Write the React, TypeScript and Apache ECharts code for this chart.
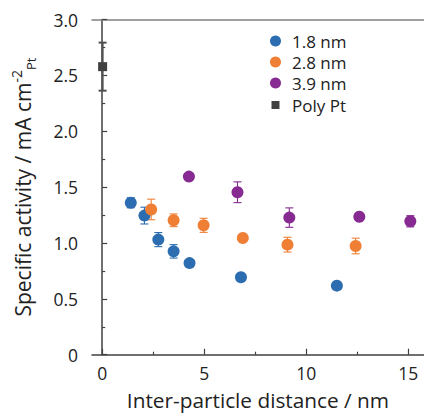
import React, { useEffect, useRef } from "react";
import * as echarts from "echarts";

const SERIES_NAMES = ["1.8 nm", "2.8 nm", "3.9 nm", "Poly Pt"];

const blueX = [1.4, 2.07, 2.75, 3.5, 4.28, 6.8, 11.5];
const blueY = [1.36, 1.245, 1.03, 0.925, 0.82, 0.693, 0.618];
const blueErr = [0.045, 0.075, 0.063, 0.06, 0, 0, 0];

const orangeX = [2.4, 3.5, 4.97, 6.89, 9.08, 12.42];
const orangeY = [1.3, 1.203, 1.158, 1.045, 0.985, 0.973];
const orangeErr = [0.092, 0.057, 0.063, 0, 0.066, 0.07];

const purpleX = [4.25, 6.63, 9.17, 12.6, 15.1];
const purpleY = [1.594, 1.454, 1.227, 1.235, 1.194];
const purpleErr = [0, 0.093, 0.087, 0, 0.05];

const polyX = [0.02];
const polyY = [2.578];
const polyErr = [0.215];

const xMajorTicks = [0, 5, 10, 15];
const xMinorTicks = [2.5, 7.5, 12.5];

const COLORS = ["#2c6cb0", "#ee7f35", "#872a91", "#404040"];
const ERR_COLORS = ["#2c6cb0", "#ee7f35", "#872a91", "#505050"];
const FONT = "Open Sans";
const TEXT = "#222222";
const AXIS = "#404040";

function pts(xs: number[], ys: number[]) {
  return xs.map((x, i) => [x, ys[i]]);
}

function errPts(xs: number[], ys: number[], es: number[]) {
  const out: number[][] = [];
  xs.forEach((x, i) => {
    if (es[i] > 0) out.push([x, ys[i] - es[i], ys[i] + es[i]]);
  });
  return out;
}

function errSeries(name: string, data: number[][], color: string, lw: number) {
  return {
    type: "custom",
    name,
    xAxisIndex: 0,
    yAxisIndex: 0,
    z: 5,
    clip: false,
    encode: { x: 0, y: [1, 2] },
    data,
    renderItem: (params: any, api: any) => {
      const x = api.value(0);
      const lo = api.value(1);
      const hi = api.value(2);
      const top = api.coord([x, hi]);
      const bot = api.coord([x, lo]);
      const hw = 4;
      const style = { stroke: color, lineWidth: lw, fill: null };
      return {
        type: "group",
        children: [
          { type: "line", shape: { x1: top[0], y1: top[1], x2: bot[0], y2: bot[1] }, style },
          { type: "line", shape: { x1: top[0] - hw, y1: top[1], x2: top[0] + hw, y2: top[1] }, style },
          { type: "line", shape: { x1: bot[0] - hw, y1: bot[1], x2: bot[0] + hw, y2: bot[1] }, style },
        ],
      };
    },
  };
}

export default function App() {
  const ref = useRef<HTMLDivElement>(null);
  useEffect(() => {
    if (!ref.current) return;
    const chart = echarts.init(ref.current, null, { renderer: "svg" });
    const xMin = -0.5;
    const xMax = 15.77;
    chart.setOption({
      animation: false,
      backgroundColor: "#ffffff",
      textStyle: { fontFamily: FONT },
      grid: { left: 92, right: 0, top: 19.5, bottom: 61.3, containLabel: false },
      legend: [
        {
          data: SERIES_NAMES.slice(0, 3),
          orient: "vertical",
          left: 270,
          top: 32,
          padding: 0,
          itemGap: 3,
          itemWidth: 11,
          itemHeight: 11,
          icon: "circle",
          itemStyle: { borderWidth: 0, opacity: 1 },
          textStyle: { fontFamily: FONT, fontSize: 17, color: TEXT, lineHeight: 18, padding: [0, 0, 0, 6] },
        },
        {
          data: SERIES_NAMES.slice(3),
          orient: "vertical",
          left: 271.5,
          top: 96,
          padding: 0,
          itemGap: 0,
          itemWidth: 8,
          itemHeight: 8,
          icon: "rect",
          itemStyle: { borderWidth: 0, opacity: 1 },
          textStyle: { fontFamily: FONT, fontSize: 17, color: TEXT, lineHeight: 18, padding: [0, 0, 0, 7.5] },
        },
      ],
      xAxis: [
        {
          type: "value",
          min: xMin,
          max: xMax,
          position: "bottom",
          name: "Inter-particle distance / nm",
          nameLocation: "middle",
          nameGap: 35,
          nameTextStyle: { fontFamily: FONT, fontSize: 20.8, color: TEXT },
          axisLine: { show: true, lineStyle: { color: AXIS, width: 1.5 } },
          axisTick: { show: true, inside: true, length: 6, customValues: xMajorTicks, lineStyle: { color: AXIS, width: 1.2 } },
          axisLabel: { customValues: xMajorTicks, fontFamily: FONT, fontSize: 17.5, color: TEXT, margin: 9 },
          splitLine: { show: false },
        },
        {
          type: "value",
          min: xMin,
          max: xMax,
          position: "bottom",
          axisLine: { show: false },
          axisTick: { show: true, inside: true, length: 3, customValues: xMinorTicks, lineStyle: { color: AXIS, width: 1.2 } },
          axisLabel: { show: false },
          splitLine: { show: false },
        },
        {
          type: "value",
          min: xMin,
          max: xMax,
          position: "top",
          axisLine: { show: true, lineStyle: { color: "#808080", width: 1.5 } },
          axisTick: { show: false },
          axisLabel: { show: false },
          splitLine: { show: false },
        },
      ],
      yAxis: [
        {
          type: "value",
          min: 0,
          max: 3,
          interval: 0.5,
          name: "Specific activity / mA cm{sup|-2}{sub|Pt}",
          nameLocation: "middle",
          nameGap: 55,
          nameRotate: 90,
          nameTextStyle: {
            fontFamily: FONT,
            fontSize: 21,
            color: TEXT,
            lineHeight: 28,
            rich: {
              sup: { fontFamily: FONT, fontSize: 14, color: TEXT, verticalAlign: "top", lineHeight: 16 },
              sub: { fontFamily: FONT, fontSize: 13, color: TEXT, verticalAlign: "bottom", lineHeight: 15 },
            },
          },
          axisLine: { show: true, lineStyle: { color: AXIS, width: 1.5 } },
          axisTick: { show: true, inside: true, length: 5, lineStyle: { color: AXIS, width: 1.2 } },
          minorTick: { show: true, splitNumber: 2, length: 3, lineStyle: { color: AXIS, width: 1.2 } },
          axisLabel: {
            fontFamily: FONT,
            fontSize: 17.5,
            color: TEXT,
            margin: 14,
            formatter: (v: number) => (v === 0 ? "0" : v.toFixed(1)),
          },
          splitLine: { show: false },
          minorSplitLine: { show: false },
        },
      ],
      series: [
        errSeries("err-poly", errPts(polyX, polyY, polyErr), ERR_COLORS[3], 2),
        errSeries("err-1.8", errPts(blueX, blueY, blueErr), ERR_COLORS[0], 1.1),
        errSeries("err-2.8", errPts(orangeX, orangeY, orangeErr), ERR_COLORS[1], 1.1),
        errSeries("err-3.9", errPts(purpleX, purpleY, purpleErr), ERR_COLORS[2], 1.1),
        { type: "scatter", name: SERIES_NAMES[0], data: pts(blueX, blueY), symbol: "circle", symbolSize: 12, itemStyle: { color: COLORS[0], opacity: 1 }, z: 6 },
        { type: "scatter", name: SERIES_NAMES[1], data: pts(orangeX, orangeY), symbol: "circle", symbolSize: 12, itemStyle: { color: COLORS[1], opacity: 1 }, z: 6 },
        { type: "scatter", name: SERIES_NAMES[2], data: pts(purpleX, purpleY), symbol: "circle", symbolSize: 12, itemStyle: { color: COLORS[2], opacity: 1 }, z: 6 },
        { type: "scatter", name: SERIES_NAMES[3], data: pts(polyX, polyY), symbol: "rect", symbolSize: 9, itemStyle: { color: COLORS[3], opacity: 1 }, z: 6 },
      ],
    });
    return () => chart.dispose();
  }, []);
  return (
    <div
      ref={ref}
      style={{ position: "fixed", left: 0, top: 0, width: 424, height: 416, background: "#fff" }}
    />
  );
}
